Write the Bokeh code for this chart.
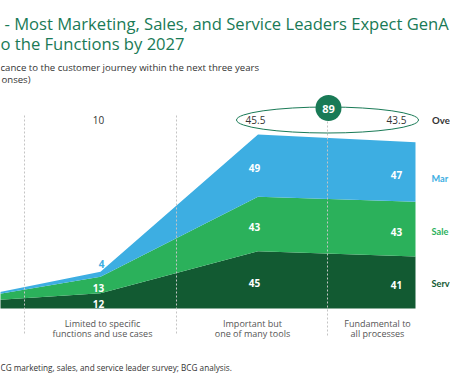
from bokeh.plotting import figure
from bokeh.models import ColumnDataSource, Range1d
from bokeh.core.properties import value
from bokeh.embed import file_html
from bokeh.resources import INLINE

# ---------------- data ----------------
categories = ["Not relevant",
              "Limited to specific\nfunctions and use cases",
              "Important but\none of many tools",
              "Fundamental to\nall processes"]
cat_index = [0, 1, 2, 3]
service = [4, 12, 45, 41]
sales = [0, 13, 43, 43]
marketing = [0, 4, 49, 47]
overall = [1, 10, 45.5, 43.5]
# right-hand labels, as far as they are visible in the cropped original
series_names = ["Mar", "Sale", "Serv"]
overall_name = "Ove"

title_lines = ["- Most Marketing, Sales, and Service Leaders Expect GenA",
               "o the Functions by 2027"]
subtitle_lines = ["cance to the customer journey within the next three years",
                  "onses)"]
footer = "CG marketing, sales, and service leader survey; BCG analysis."

# ---------------- layout helpers (pixel -> data) ----------------
W, H = 450, 375
PX_I, PX_I1 = 157.5, 100.0     # pixels per category step, pixel of category 1
PX_V, BASE = 1.27, 308.0       # pixels per percentage point, baseline pixel row


def X(px):
    return 1 + (px - PX_I1) / PX_I


def Y(py):
    return (BASE - py) / PX_V


DARK = "#125a32"
GREEN = "#2bb15b"
BLUE = "#3daee2"
TEAL = "#197a56"
FONT = value("Open Sans")
FONT2 = value("Lato")

p = figure(width=W, height=H, output_backend="svg", toolbar_location=None,
           x_range=Range1d(X(0), X(W)), y_range=Range1d(Y(H), Y(0)),
           min_border=0)
p.xaxis.visible = False
p.yaxis.visible = False
p.grid.visible = False
p.outline_line_color = None
p.background_fill_color = "white"
p.border_fill_color = "white"

src = ColumnDataSource(dict(x=cat_index, service=service, sales=sales,
                            marketing=marketing))
p.varea_stack(stackers=["service", "sales", "marketing"], x="x",
              color=[DARK, GREEN, BLUE], source=src)


def txt(px, py, s, size, color, align="left", baseline="alphabetic",
        style="normal", font=FONT):
    p.text(x=[X(px)], y=[Y(py)], text=[s], text_font=font,
           text_font_size=f"{size}px", text_color=color, text_align=align,
           text_baseline=baseline, text_font_style=style)


# dashed separators
sep_px = [24, 176]
p.segment(x0=[X(v) for v in sep_px], x1=[X(v) for v in sep_px],
          y0=[Y(115)] * 2, y1=[Y(335)] * 2, line_color="#c4c4c4",
          line_dash="2 2", line_width=1)
p.segment(x0=[X(327)], x1=[X(327)], y0=[Y(121)], y1=[Y(335)],
          line_color="#c4c4c4", line_dash="2 2", line_width=1)

# ellipse + circle for combined total
p.ellipse(x=[X(327)], y=[Y(119.5)], width=[182], height=[26],
          width_units="screen", height_units="screen", fill_color=None,
          line_color=TEAL, line_width=1)
p.circle(x=[X(328)], y=[Y(107.5)], radius=[13], radius_units="screen",
         fill_color=TEAL, line_color=None)
txt(328, 108, f"{overall[2] + overall[3]:g}", 11, "white", "center",
    "middle", "bold")

# overall numbers
top_px = {1: 98, 2: 255, 3: 396}
for i, px in top_px.items():
    txt(px, 119.8, f"{overall[i]:g}", 10, "#333333", "center", "middle")
txt(431.5, 119.8, overall_name, 9.6, "#333333", "left", "middle", "bold",
    FONT2)

# value labels in the bands
lab_px = {1: 98, 2: 254, 3: 396}
off = 2.7 / PX_V
for i, px in lab_px.items():
    s, sa, m = service[i], sales[i], marketing[i]
    p.text(x=[X(px)], y=[s / 2 - off], text=[f"{s}"], text_font=FONT,
           text_font_size="10px", text_color="white", text_align="center",
           text_baseline="middle", text_font_style="bold")
    p.text(x=[X(px)], y=[s + sa / 2 - off], text=[f"{sa}"], text_font=FONT,
           text_font_size="10px", text_color="white", text_align="center",
           text_baseline="middle", text_font_style="bold")
    if m >= 10:
        p.text(x=[X(px)], y=[s + sa + m / 2 - off], text=[f"{m}"],
               text_font=FONT, text_font_size="10px", text_color="white",
               text_align="center", text_baseline="middle",
               text_font_style="bold")
    else:
        p.text(x=[X(px + 3)], y=[s + sa + m + 7.5 / PX_V], text=[f"{m}"],
               text_font=FONT, text_font_size="10px", text_color=BLUE,
               text_align="center", text_baseline="middle",
               text_font_style="bold")

# series labels on the right
for name, col, py in zip(series_names, [BLUE, GREEN, DARK],
                         [177.7, 230.7, 282.7]):
    txt(431, py, name, 9.2, col, "left", "middle", "bold", FONT2)

# category labels
cat_lab_px = {1: 102, 2: 252, 3: 377}
for i, px in cat_lab_px.items():
    l1, l2 = categories[i].split("\n")
    txt(px, 322.7, l1, 9, "#555555", "center")
    txt(px, 333.3, l2, 9, "#555555", "center")

# title, subtitle, footer
txt(4, 23, title_lines[0], 16.6, TEAL)
txt(0, 43.3, title_lines[1], 16.6, TEAL)
txt(0, 66.5, subtitle_lines[0], 9.6, "#333333")
txt(1, 79, subtitle_lines[1], 9.6, "#333333")
txt(0, 366.5, footer, 8.2, "#333333")

open("out.html", "w").write(file_html(p, INLINE))
